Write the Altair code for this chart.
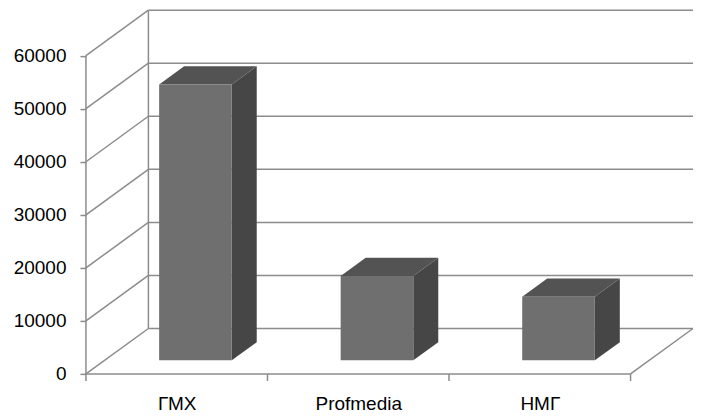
import json
import altair as alt
import pandas as pd

# ---- data ----
categories = ["ГМХ", "Profmedia", "НМГ"]
values = [52000, 15900, 12000]
y_ticks = [0, 10000, 20000, 30000, 40000, 50000, 60000]

# ---- projection / style constants ----
PX_PER_UNIT = 181.67          # px per category slot
PX_PER_VAL = 53.1 / 10000     # px per value unit
DEPTH_PX_X = 62.5             # oblique depth offset (px)
DEPTH_PX_Y = 45.5
F0, F1 = 0.3, 0.7             # bar front / back depth fractions
HALF = 0.2                    # half bar width in category units
TICK_PX = 7

n = len(categories)
dxu = DEPTH_PX_X / PX_PER_UNIT
dyv = DEPTH_PX_Y / PX_PER_VAL
x_max = n + dxu
y_max = y_ticks[-1] + dyv
W = x_max * PX_PER_UNIT
H = y_max * PX_PER_VAL

GRID = "#8c8c8c"
FONT = "Liberation Sans"

xs = alt.Scale(domain=[0, x_max], nice=False, zero=False)
ys = alt.Scale(domain=[0, y_max], nice=False, zero=False)

label_expr = "%s[floor(datum.value)]" % json.dumps(categories, ensure_ascii=False)
x_axis = alt.Axis(
    values=[i + 0.5 for i in range(n)], labelExpr=label_expr, title=None,
    domain=False, ticks=False, grid=False, labelPadding=21,
    labelFont=FONT, labelFontSize=19, labelColor="#000000")
y_axis = alt.Axis(
    values=y_ticks, format="d", title=None, domain=False, grid=False,
    tickSize=6, tickColor=GRID, tickWidth=1.5, labelPadding=14,
    labelFont=FONT, labelFontSize=19, labelColor="#000000")

# ---- wall / floor lines ----
rules = []
for t in y_ticks:
    rules.append(dict(x=0, y=t, x2=dxu, y2=t + dyv))             # left wall diagonals
    rules.append(dict(x=dxu, y=t + dyv, x2=n + dxu, y2=t + dyv))  # back wall grid
rules.append(dict(x=dxu, y=dyv, x2=dxu, y2=y_ticks[-1] + dyv))   # back-left edge
rules.append(dict(x=0, y=0, x2=0, y2=y_ticks[-1]))               # front vertical axis
rules.append(dict(x=0, y=0, x2=n, y2=0))                         # floor front edge
rules.append(dict(x=n, y=0, x2=n + dxu, y2=dyv))                 # floor right edge
for i in range(n + 1):
    rules.append(dict(x=i, y=0, x2=i, y2=-TICK_PX / PX_PER_VAL))  # category ticks
rules_df = pd.DataFrame(rules)

# ---- bar faces ----
front, side, top = [], [], []
for i, (c, v) in enumerate(zip(categories, values)):
    cx = i + 0.5
    front.append(dict(cat=c, x=cx - HALF + F0 * dxu, x2=cx + HALF + F0 * dxu,
                      y=F0 * dyv, y2=v + F0 * dyv))
    for f in (F0, F1):
        side.append(dict(cat=c, x=cx + HALF + f * dxu, y=v + f * dyv, y2=f * dyv))
        top.append(dict(cat=c, y=v + f * dyv, x=cx - HALF + f * dxu, x2=cx + HALF + f * dxu))
front_df, side_df, top_df = pd.DataFrame(front), pd.DataFrame(side), pd.DataFrame(top)

lines = alt.Chart(rules_df).mark_rule(color=GRID, strokeWidth=1.5).encode(
    x=alt.X("x:Q", scale=xs, axis=x_axis),
    x2="x2:Q",
    y=alt.Y("y:Q", scale=ys, axis=y_axis),
    y2="y2:Q",
)

side_l = alt.Chart(side_df).mark_area(color="#464646", opacity=1).encode(
    x=alt.X("x:Q", scale=xs, axis=x_axis),
    y=alt.Y("y:Q", scale=ys, axis=y_axis),
    y2="y2:Q",
    detail="cat:N",
)

top_l = alt.Chart(top_df).mark_area(color="#535353", orient="horizontal", opacity=1).encode(
    y=alt.Y("y:Q", scale=ys, axis=y_axis),
    x=alt.X("x:Q", scale=xs, axis=x_axis),
    x2="x2:Q",
    detail="cat:N",
)

front_l = alt.Chart(front_df).mark_rect(color="#6f6f6f").encode(
    x=alt.X("x:Q", scale=xs, axis=x_axis),
    x2="x2:Q",
    y=alt.Y("y:Q", scale=ys, axis=y_axis),
    y2="y2:Q",
)

chart = alt.layer(lines, side_l, top_l, front_l).properties(
    width=W, height=H,
    background="#ffffff",
    autosize=alt.AutoSizeParams(type="none"),
    padding={"left": 78, "top": 2, "right": 2, "bottom": 40},
).configure_view(strokeWidth=0, stroke="transparent")

chart.save("out.html", embed_options={"renderer": "svg", "actions": False})
